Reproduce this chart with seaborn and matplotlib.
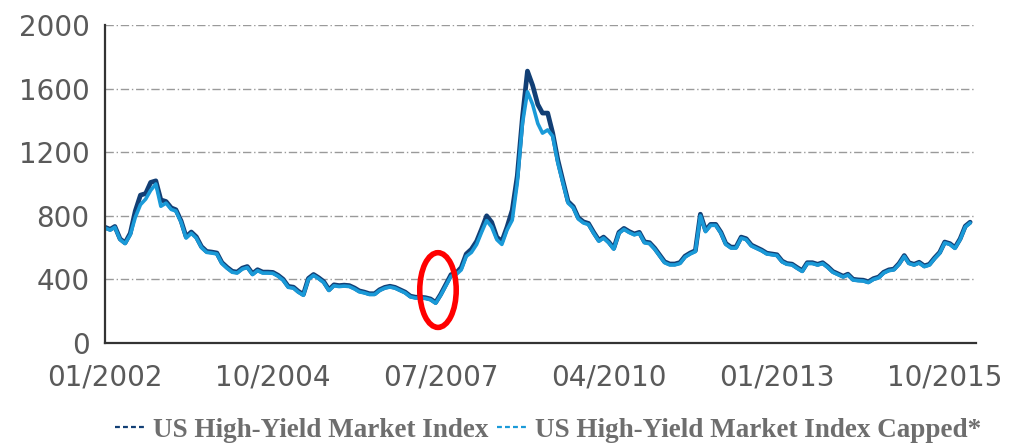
import matplotlib
matplotlib.use("Agg")
import matplotlib.pyplot as plt
import matplotlib.dates as mdates
from matplotlib.patches import Ellipse
from matplotlib.lines import Line2D
import seaborn as sns
import pandas as pd
import datetime as dt

# ---- data (monthly, Jan 2002 .. Mar 2016) ----
start_month = "2002-01-01"
capped = [723, 710, 728, 650, 625, 680, 790, 870, 905, 960, 1000, 860, 880, 840, 830, 760,
          660, 690, 660, 600, 570, 566, 560, 500, 470, 445, 440, 465, 475, 430, 455, 440,
          440, 438, 420, 395, 350, 345, 320, 300, 400, 425, 405, 380, 330, 360, 355, 358,
          355, 340, 322, 315, 305, 305, 330, 345, 352, 345, 330, 315, 290, 283, 283, 280,
          272, 250, 300, 360, 420, 430, 460, 545, 570, 620, 695, 770, 730, 650, 620, 711,
          773, 1006, 1380, 1580, 1500, 1380, 1320, 1340, 1300, 1130, 1006, 880, 850, 780, 755, 745,
          690, 640, 660, 630, 590, 690, 715, 695, 680, 690, 630, 625, 590, 545, 505, 491,
          491, 500, 540, 560, 575, 800, 700, 740, 740, 690, 620, 597, 597, 660, 650, 610,
          595, 580, 560, 555, 550, 510, 495, 491, 470, 450, 500, 500, 490, 500, 475, 445,
          430, 415, 428, 396, 392, 390, 380, 400, 410, 440, 455, 460, 495, 545, 500, 490,
          503, 480, 490, 530, 565, 630, 620, 595, 650, 730, 755]
index = [728, 715, 733, 655, 630, 690, 830, 930, 940, 1010, 1020, 900, 890, 850, 838, 768,
         668, 698, 668, 606, 576, 572, 566, 506, 476, 451, 446, 471, 481, 436, 461, 446,
         446, 444, 426, 401, 356, 351, 326, 305, 406, 431, 411, 386, 335, 366, 361, 364,
         361, 346, 328, 320, 310, 310, 335, 350, 357, 350, 335, 320, 295, 288, 288, 285,
         277, 255, 306, 368, 430, 440, 475, 560, 590, 640, 715, 800, 760, 665, 640, 730,
         836, 1050, 1420, 1710, 1620, 1500, 1446, 1446, 1320, 1150, 1020, 890, 858, 788, 762, 752,
         696, 646, 666, 636, 596, 696, 721, 701, 686, 696, 636, 631, 596, 551, 511, 497,
         497, 506, 546, 566, 581, 810, 708, 746, 746, 696, 626, 603, 603, 666, 656, 616,
         600, 585, 565, 560, 555, 515, 500, 496, 475, 455, 505, 505, 495, 505, 480, 450,
         435, 420, 433, 401, 397, 395, 385, 405, 415, 445, 460, 465, 500, 550, 505, 495,
         508, 485, 495, 535, 570, 635, 625, 600, 655, 735, 760]
series_names = ["US High-Yield Market Index", "US High-Yield Market Index Capped*"]
tick_dates = ["2002-01-01", "2004-10-01", "2007-07-01", "2010-04-01", "2013-01-01", "2015-10-01"]
tick_labels = ["01/2002", "10/2004", "07/2007", "04/2010", "01/2013", "10/2015"]
y_ticks = [0, 400, 800, 1200, 1600, 2000]

dark_col = "#123f75"
light_col = "#1a9ad8"
text_col = "#5a5a5a"

dates = pd.date_range(start_month, periods=len(capped), freq="MS")
df = pd.DataFrame({
    "date": list(dates) * 2,
    "value": index + capped,
    "series": [series_names[0]] * len(index) + [series_names[1]] * len(capped),
})

sns.set_style("white")
plt.rcParams["font.family"] = ["DejaVu Sans"]

fig = plt.figure(figsize=(10.17, 4.48), dpi=100)
ax = fig.add_axes([105 / 1017, 105 / 448, (976 - 105) / 1017, (343 - 25) / 448])

sns.lineplot(data=df[df.series == series_names[0]], x="date", y="value",
             color=dark_col, linewidth=3.4, ax=ax, legend=False)
sns.lineplot(data=df[df.series == series_names[1]], x="date", y="value",
             color=light_col, linewidth=2.6, ax=ax, legend=False)

ax.set_xlim(pd.Timestamp("2002-01-01"), pd.Timestamp("2016-04-05"))
ax.set_ylim(0, 2000)
ax.set_yticks(y_ticks)
ax.set_yticklabels([str(v) for v in y_ticks])
ax.set_xticks(pd.to_datetime(tick_dates))
ax.set_xticklabels(tick_labels)
ax.set_xlabel("")
ax.set_ylabel("")
ax.tick_params(axis="both", length=0, labelsize=20, labelcolor=text_col)
ax.tick_params(axis="y", pad=11)
ax.tick_params(axis="x", pad=15)

ax.yaxis.grid(True, linestyle=(0, (6, 2, 1, 2)), color="#9a9a9a", linewidth=1.0)
ax.xaxis.grid(False)
for s in ["top", "right"]:
    ax.spines[s].set_visible(False)
for s in ["left", "bottom"]:
    ax.spines[s].set_color("#333333")
    ax.spines[s].set_linewidth(1.6)
ax.set_axisbelow(True)

# red highlight ellipse
cx = mdates.date2num(dt.datetime(2007, 6, 15))
ell = Ellipse((cx, 333), width=218, height=470, fill=False, edgecolor="#ff0000",
              linewidth=4.0, transform=ax.transData, zorder=5)
ax.add_patch(ell)

handles = [Line2D([], [], color=dark_col, linewidth=1.6, linestyle=(0, (2.2, 1.4))),
           Line2D([], [], color=light_col, linewidth=1.6, linestyle=(0, (2.2, 1.4)))]
fig.legend(handles, series_names, loc="center", bbox_to_anchor=(0.539, 0.04), ncol=2,
           frameon=False, handlelength=1.1, handletextpad=0.3, columnspacing=0.3,
           prop={"family": "Liberation Serif", "weight": "bold", "size": 19.5},
           labelcolor="#6e6e6e")

fig.savefig("out.png", dpi=100)
